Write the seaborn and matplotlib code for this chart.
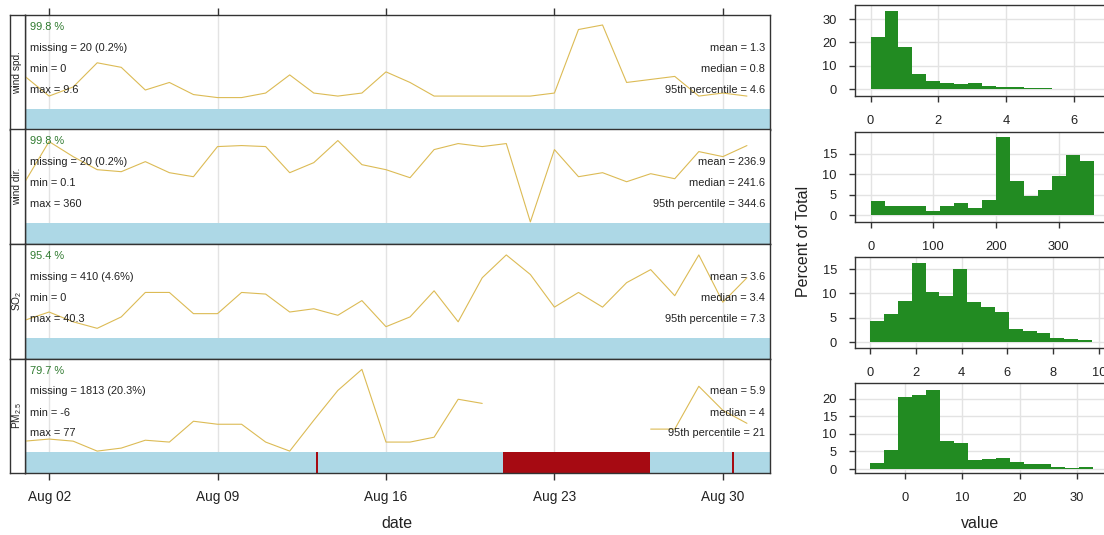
import numpy as np
import pandas as pd
import matplotlib
matplotlib.use("Agg")
import matplotlib.pyplot as plt
import matplotlib.dates as mdates
import seaborn as sns

# ---------------- data ----------------
dates = pd.date_range("2023-08-01", "2023-08-31", freq="D")

wind_spd = [1.6, 0.3, 0.9, 2.5, 2.2, 0.7, 1.2, 0.4, 0.2, 0.2, 0.5, 1.7, 0.5, 0.3, 0.5, 1.9,
            1.2, 0.3, 0.3, 0.3, 0.3, 0.3, 0.5, 4.7, 5.0, 1.2, 1.4, 1.6, 0.3, 0.5, 0.3]
wind_dir = [164, 324, 264, 212, 204, 244, 200, 184, 304, 308, 304, 200, 240, 328, 232, 212,
            180, 292, 316, 304, 316, 4, 292, 184, 200, 164, 196, 176, 284, 264, 308]
so2 = [2.5, 3.0, 2.4, 2.0, 2.7, 4.2, 4.2, 2.9, 2.9, 4.2, 4.1, 3.0, 3.2, 2.8, 3.7, 2.1,
       2.7, 4.3, 2.4, 5.1, 6.5, 5.3, 3.3, 4.2, 3.3, 4.8, 5.6, 4.0, 6.5, 3.6, 5.1]
pm25 = [4.3, 5.2, 4.3, 0.0, 1.3, 4.7, 3.9, 12.9, 11.6, 11.6, 3.9, 0.0, 13.3, 26.2, 35.3, 3.9,
        3.9, 6.0, 22.4, 20.6, np.nan, np.nan, np.nan, np.nan, np.nan, np.nan,
        9.5, 9.5, 28.0, 17.6, 12.0]

variables = ["wind spd.", "wind dir.", "SO$_2$", "PM$_{2.5}$"]
pct_labels = ["99.8 %", "99.8 %", "95.4 %", "79.7 %"]
missing_labels = ["missing = 20 (0.2%)", "missing = 20 (0.2%)", "missing = 410 (4.6%)", "missing = 1813 (20.3%)"]
min_labels = ["min = 0", "min = 0.1", "min = 0", "min = -6"]
max_labels = ["max = 9.6", "max = 360", "max = 40.3", "max = 77"]
mean_labels = ["mean = 1.3", "mean = 236.9", "mean = 3.6", "mean = 5.9"]
median_labels = ["median = 0.8", "median = 241.6", "median = 3.4", "median = 4"]
p95_labels = ["95th percentile = 4.6", "95th percentile = 344.6", "95th percentile = 7.3", "95th percentile = 21"]

# missing periods (start, end) per variable
missing_periods = [
    [],
    [],
    [],
    [("2023-08-13 02:00", "2023-08-13 04:00"),
     ("2023-08-20 21:00", "2023-08-26 23:00"),
     ("2023-08-30 09:00", "2023-08-30 11:00")],
]

# histogram heights (percent of total), 16 bins each
hist_ws = [22.2, 33.4, 18.2, 6.5, 3.6, 2.7, 2.1, 2.6, 1.3, 0.85, 0.85, 0.7, 0.7, 0.3, 0.3, 0.3]
hist_wd = [3.5, 2.4, 2.4, 2.2, 1.0, 2.3, 3.0, 1.8, 3.8, 19.1, 8.4, 4.8, 6.1, 9.7, 14.8, 13.3]
hist_so2 = [4.3, 5.8, 8.5, 16.2, 10.4, 9.5, 15.1, 8.2, 7.2, 6.3, 2.8, 2.2, 1.9, 0.9, 0.6, 0.4]
hist_pm = [1.7, 5.3, 20.3, 21.1, 22.3, 8.0, 7.3, 2.6, 2.9, 3.2, 2.0, 1.5, 1.5, 0.7, 0.3, 0.5]
hist_ranges = [(0, 6.58), (0, 356), (0, 9.7), (-6, 32.8)]
hist_xticks = [[0, 2, 4, 6], [0, 100, 200, 300], [0, 2, 4, 6, 8, 10], [0, 10, 20, 30]]
hist_yticks = [[0, 10, 20, 30], [0, 5, 10, 15], [0, 5, 10, 15], [0, 5, 10, 15, 20]]

# ---------------- style ----------------
sns.set_style("white")
plt.rcParams["font.family"] = ["Liberation Sans", "DejaVu Sans"]
plt.rcParams["mathtext.fontset"] = "custom"
plt.rcParams["mathtext.rm"] = "Liberation Sans"
plt.rcParams["mathtext.it"] = "Liberation Sans"

W, H = 1104, 535
fig = plt.figure(figsize=(W / 100, H / 100), dpi=100)
fig.patch.set_facecolor("white")


def px_axes(x0, y0, x1, y1):
    return fig.add_axes([x0 / W, 1 - y1 / H, (x1 - x0) / W, (y1 - y0) / H])


FRAME = "#333333"
GRID = "#e3e3e3"
LINE = "#dcbb55"
BLUE = "#add8e6"
RED = "#a60a12"
GREEN_TXT = "#2f7a2f"

series = [wind_spd, wind_dir, so2, pm25]
trend_ylims = [(-1.91, 5.66), (-84, 372), (0.15, 7.17), (-9.46, 40.0)]
xmin = pd.Timestamp("2023-08-01 00:00")
xmax = pd.Timestamp("2023-08-31 23:00")
tick_dates = pd.to_datetime(["2023-08-02", "2023-08-09", "2023-08-16", "2023-08-23", "2023-08-30"])

panel_h = 114.5
top0 = 15
for i, (name, vals) in enumerate(zip(variables, series)):
    y0 = top0 + i * panel_h
    y1 = y0 + panel_h
    ax = px_axes(25, y0, 770, y1)
    df = pd.DataFrame({"date": dates, "value": vals})
    df["segment"] = np.isnan(df["value"].to_numpy(dtype=float)).cumsum()
    df = df.dropna()
    sns.lineplot(data=df, x="date", y="value", units="segment", estimator=None,
                 color=LINE, lw=0.8, ax=ax, zorder=3)
    ax.set_xlim(xmin, xmax)
    ax.set_ylim(*trend_ylims[i])
    # data availability strip
    ax.axvspan(xmin, xmax, ymin=0, ymax=0.18, color=BLUE, lw=0, zorder=1)
    for s, e in missing_periods[i]:
        ax.axvspan(pd.Timestamp(s), pd.Timestamp(e), ymin=0, ymax=0.18, color=RED, lw=0, zorder=2)
    ax.set_xticks(tick_dates)
    ax.xaxis.set_major_formatter(mdates.DateFormatter("%b %d"))
    ax.set_axisbelow(True)
    ax.grid(axis="x", color=GRID, lw=1)
    ax.grid(axis="y", visible=False)
    ax.set_yticks([])
    ax.set_xlabel("")
    ax.set_ylabel("")
    ax.tick_params(axis="x", direction="out", length=5, width=1, color=FRAME,
                   top=(i == 0), bottom=(i == 3), labelbottom=(i == 3), labeltop=False,
                   labelsize=9.8, pad=7, labelcolor="#222222")
    for sp in ax.spines.values():
        sp.set_color(FRAME)
        sp.set_linewidth(1)
    # annotations
    fy = [1 - 12 / panel_h, 1 - 33 / panel_h, 1 - 54 / panel_h, 1 - 75 / panel_h]
    kw = dict(transform=ax.transAxes, fontsize=7.9, va="center", color="#222222")
    ax.text(0.0067, fy[0], pct_labels[i], ha="left", **{**kw, "color": GREEN_TXT})
    ax.text(0.0067, fy[1], missing_labels[i], ha="left", **kw)
    ax.text(0.0067, fy[2], min_labels[i], ha="left", **kw)
    ax.text(0.0067, fy[3], max_labels[i], ha="left", **kw)
    ax.text(0.9933, fy[1], mean_labels[i], ha="right", **kw)
    ax.text(0.9933, fy[2], median_labels[i], ha="right", **kw)
    ax.text(0.9933, fy[3], p95_labels[i], ha="right", **kw)
    # strip label
    sax = px_axes(10, y0, 25, y1)
    sax.set_xticks([])
    sax.set_yticks([])
    for sp in sax.spines.values():
        sp.set_color(FRAME)
        sp.set_linewidth(1)
    sax.text(0.5, 0.5, name, rotation=90, ha="center", va="center",
             fontsize=7.3, color="#222222", transform=sax.transAxes)

fig.text(397 / W, 1 - 523 / H, "date", ha="center", va="center", fontsize=11.5, color="#222222")

# ---------------- histograms ----------------
hists = [hist_ws, hist_wd, hist_so2, hist_pm]
hist_tops = [5, 132, 257, 383]
hist_bots = [96, 222, 348, 473]
hist_xlims = [(-0.46, 7.0), (-25, 379), (-0.66, 10.4), (-8.7, 35.4)]
hist_ylims = [(-2.9, 36.0), (-1.6, 20.3), (-1.2, 17.5), (-1.1, 24.4)]
for i, heights in enumerate(hists):
    ax = px_axes(855, hist_tops[i], 1108, hist_bots[i])
    lo, hi = hist_ranges[i]
    edges = np.linspace(lo, hi, len(heights) + 1)
    centers = (edges[:-1] + edges[1:]) / 2
    sns.histplot(x=centers, weights=heights, bins=len(heights), binrange=(lo, hi),
                 color="#228b22", alpha=1, linewidth=0, ax=ax, zorder=3)
    ax.set_xlim(*hist_xlims[i])
    ax.set_ylim(*hist_ylims[i])
    ax.set_xticks(hist_xticks[i])
    ax.set_yticks(hist_yticks[i])
    ax.set_axisbelow(True)
    ax.grid(True, color=GRID, lw=1)
    ax.set_xlabel("")
    ax.set_ylabel("")
    ax.tick_params(axis="both", direction="out", length=4, width=1, color=FRAME,
                   labelsize=9.3, labelcolor="#222222")
    ax.tick_params(axis="x", pad=10, bottom=True)
    ax.tick_params(axis="y", pad=9, left=True)
    for sp in ax.spines.values():
        sp.set_color(FRAME)
        sp.set_linewidth(1)

fig.text(803 / W, 1 - 241 / H, "Percent of Total", rotation=90, ha="center", va="center",
         fontsize=11.5, color="#222222")
fig.text(980 / W, 1 - 523 / H, "value", ha="center", va="center", fontsize=11.5, color="#222222")

fig.savefig("out.png", dpi=100, facecolor="white")
